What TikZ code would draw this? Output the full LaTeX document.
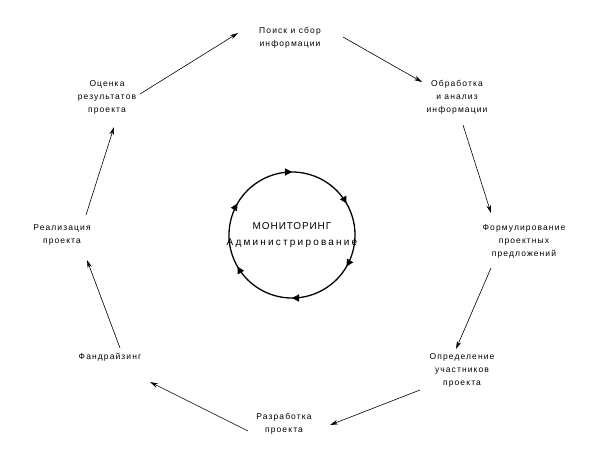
\documentclass[tikz,border=0pt]{standalone}
\usepackage{fontspec}
\setmainfont{Liberation Sans}
\newfontfamily\lblfont[LetterSpace=13]{Liberation Sans}
\newfontfamily\ctrfont[LetterSpace=22]{Liberation Sans}
\newfontfamily\ctrfontb[LetterSpace=9]{Liberation Sans}
\usetikzlibrary{arrows.meta,decorations.markings}
\begin{document}
\begin{tikzpicture}[x=1pt,y=-1pt,
  lbl/.style={align=center,inner sep=0pt,font=\lblfont\fontsize{8.5}{13}\selectfont},
  conn/.style={line width=0.6pt,-{Stealth[length=8pt,width=4.5pt]}},
  ring/.style={line width=1.3pt,postaction={decorate},
    decoration={markings,
      mark=between positions 0.0833 and 1 step 0.16667 with {\arrow{Triangle[length=7pt,width=7pt]}}}}
  ]
\useasboundingbox (0,0) rectangle (598,464);
\node[lbl] (p)  at (290,38)  {Поиск и сбор\\информации};
\node[lbl] (ob) at (457,97)  {Обработка\\и анализ\\информации};
\node[lbl] (f)  at (524,241) {Формулирование\\проектных\\предложений};
\node[lbl] (o)  at (462,370) {Определение\\участников\\проекта};
\node[lbl] (r)  at (284,424) {Разработка\\проекта};
\node[lbl] (fa) at (110,357) {Фандрайзинг};
\node[lbl] (re) at (62,235)  {Реализация\\проекта};
\node[lbl] (oc) at (107,97)  {Оценка\\результатов\\проекта};
\node[align=center,inner sep=0pt,font=\fontsize{10}{16}\selectfont] (c) at (292,235) {{\ctrfontb МОНИТОРИНГ}\\{\ctrfont Администрирование}};
\draw[ring] ([shift={(-120:63)}]c.center) arc[start angle=-120,end angle=240,radius=63];
\draw[conn] ([shift={(33,-3)}]oc.center) -- ([shift={(-52,-5)}]p.center);
\draw[conn] ([shift={(53,-1)}]p.center) -- ([shift={(-35,-15)}]ob.center);
\draw[conn] ([shift={(6,28)}]ob.center) -- ([shift={(-33,-28)}]f.center);
\draw[conn] ([shift={(-33,27)}]f.center) -- ([shift={(-6,-21)}]o.center);
\draw[conn] ([shift={(-42,20)}]o.center) -- ([shift={(46,1)}]r.center);
\draw[conn] ([shift={(-36,7)}]r.center) -- ([shift={(40,25)}]fa.center);
\draw[conn] ([shift={(10,-9)}]fa.center) -- ([shift={(25,25)}]re.center);
\draw[conn] ([shift={(24,-20)}]re.center) -- ([shift={(7,30)}]oc.center);
\end{tikzpicture}
\end{document}
